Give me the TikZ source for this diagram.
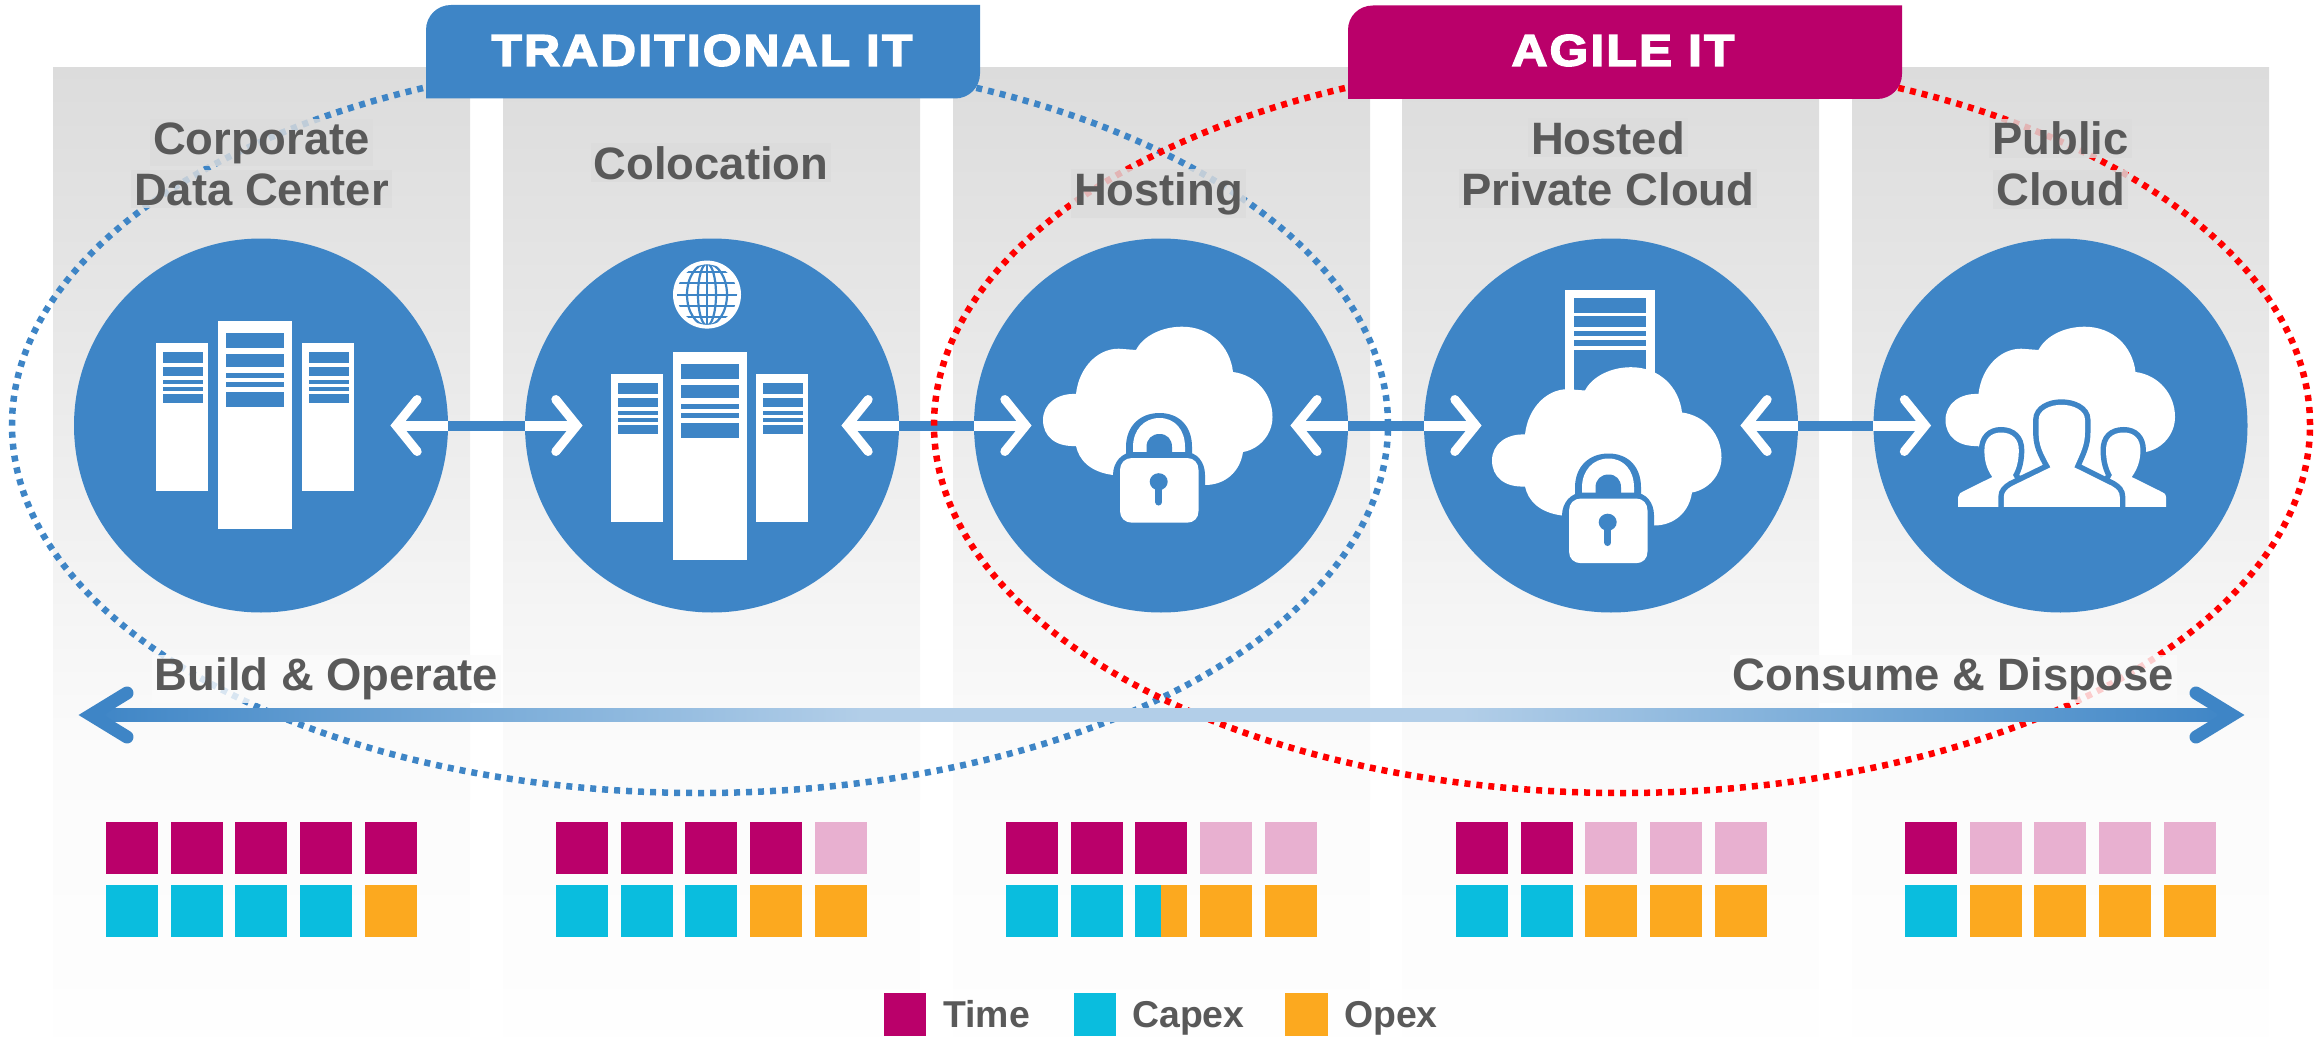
\documentclass[tikz,border=0pt]{standalone}
\usepackage{fontspec}
\setmainfont{Liberation Sans}
\newfontfamily\headfont[LetterSpace=5,FakeBold=3.5,FakeStretch=1.12]{Liberation Sans}
\usetikzlibrary{shapes.geometric}
\definecolor{itblue}{HTML}{3E85C6}
\definecolor{itpink}{HTML}{BA006A}
\definecolor{palepink}{HTML}{E8B0D0}
\definecolor{itcyan}{HTML}{0ABDDE}
\definecolor{itorange}{HTML}{FCA91F}
\definecolor{ink}{HTML}{595959}
\definecolor{fadeT}{HTML}{DCDCDC}
\definecolor{fadeA}{HTML}{E6E6E6}
\definecolor{fadeB}{HTML}{F5F5F5}
\definecolor{fadeC}{HTML}{FBFBFB}
\definecolor{fadeD}{HTML}{FEFEFE}
\definecolor{spanmid}{HTML}{B2CEE8}
\definecolor{spanlow}{HTML}{78ABD8}
\pgfdeclareverticalshading{panelfade}{100bp}{color(0bp)=(fadeD);color(25bp)=(fadeD);color(39.7bp)=(fadeC);color(46.8bp)=(fadeB);color(63bp)=(fadeA);color(75bp)=(fadeT);color(100bp)=(fadeT)}
\pgfdeclarehorizontalshading{spanfade}{100bp}{color(0bp)=(itblue);color(25bp)=(itblue);color(34bp)=(spanlow);color(43bp)=(spanmid);color(57bp)=(spanmid);color(66bp)=(spanlow);color(75bp)=(itblue);color(100bp)=(itblue)}
\tikzset{
  panel/.style={rectangle,anchor=north west,inner sep=0,minimum width=417pt,minimum height=969pt,shade,shading=panelfade},
  disc/.style={circle,fill=itblue,minimum size=374pt,inner sep=0},
  ring/.style={ellipse,minimum width=1376pt,minimum height=736pt,inner sep=0,line width=6.5pt,dash pattern=on 6pt off 6pt},
  linkshaft/.style={draw=itblue,line width=10pt},
  whiteshaft/.style={draw=white,line width=10pt},
  wing/.style={draw=white,line width=9pt,line cap=round,miter limit=10},
  bigwing/.style={draw=itblue,line width=13pt,line cap=round,miter limit=10},
  title/.style={anchor=base,text=ink,font=\fontsize{45.4}{54}\selectfont\bfseries,inner sep=3pt,fill=fadeT,fill opacity=.82,text opacity=1},
  spanlabel/.style={title,fill=fadeC},
  legendtext/.style={anchor=base west,text=ink,inner sep=0,font=\fontsize{37.4}{44}\selectfont\bfseries},
  headtext/.style={text=white,inner sep=0,font=\headfont\fontsize{44.3}{50}\selectfont\bfseries},
}
\newcommand{\smallrack}[2]{\begin{scope}[shift={(#1,#2)}]
  \fill[white] (0,0) rectangle (52,148);
  \foreach \a/\b in {9/20,24/33,37/41,44/48,51/60} \fill[itblue] (7,\a) rectangle (47,\b);
\end{scope}}
\newcommand{\bigrack}[2]{\begin{scope}[shift={(#1,#2)}]
  \fill[white] (0,0) rectangle (73.5,208);
  \foreach \a/\b in {12/27,33/45.5,51.5/56.6,61/66,71/85.5} \fill[itblue] (8,\a) rectangle (65.5,\b);
\end{scope}}
\newcommand{\cloudshape}[2]{\fill[white,shift={(#1,#2)}] (1076,446) .. controls (1055,447) and (1043,436) .. (1043,420) .. controls (1043,404) and (1057,393) .. (1076,394) .. controls (1079,366) and (1100,346) .. (1123,349) -- (1136,350) .. controls (1143,336) and (1162,326.7) .. (1182,326.7) .. controls (1210,326.7) and (1230,346) .. (1233,372) .. controls (1256,375) and (1272.5,394) .. (1272.5,417) .. controls (1272.5,434) and (1260,449) .. (1243,452) .. controls (1240,472) and (1225,485) .. (1205,485) -- (1113,475) .. controls (1090,472) and (1079,460) .. (1076,446) -- cycle;}
\newcommand{\padlock}[2]{\begin{scope}[shift={(#1,#2)}]
  \fill[itblue] (1126,460) -- (1126,447) .. controls (1126,426) and (1140,413) .. (1159.5,413) .. controls (1179,413) and (1192,426) .. (1192,447) -- (1192,460) -- cycle;
  \fill[white] (1133,456) -- (1133,447) .. controls (1133,430) and (1144,418) .. (1159.5,418) .. controls (1175,418) and (1185,430) .. (1185,447) -- (1185,456) -- cycle;
  \fill[itblue] (1146.5,456) -- (1146.5,447) .. controls (1146.5,439) and (1152,434) .. (1159.5,434) .. controls (1167,434) and (1172,439) .. (1172,447) -- (1172,456) -- cycle;
  \fill[itblue] (1113,490) -- (1113,475) .. controls (1113,462) and (1122,452) .. (1134,452) -- (1185,452) .. controls (1197,452) and (1205,462) .. (1205,475) -- (1205,530) -- (1113,530) -- cycle;
  \fill[white] (1120,470) .. controls (1120,463) and (1125,458) .. (1132,458) -- (1187,458) .. controls (1194,458) and (1198.5,463) .. (1198.5,470) -- (1198.5,511) .. controls (1198.5,518) and (1194,522.7) .. (1187,522.7) -- (1132,522.7) .. controls (1125,522.7) and (1120,518) .. (1120,511) -- cycle;
  \fill[itblue] (1158.7,481.7) ellipse [x radius=9pt,y radius=8.5pt];
  \draw[itblue,line width=7pt,line cap=round] (1158.7,485) -- (1158.7,502);
\end{scope}}
\newcommand{\linkpair}[2]{%
  \draw[linkshaft] (#1.east) -- (#2.west);
  \draw[whiteshaft] (#1.east) -- ([xshift=-53pt]#1.east);
  \draw[whiteshaft] (#2.west) -- ([xshift=53pt]#2.west);
  \draw[wing] ([xshift=-31pt,yshift=26pt]#1.east) -- ([xshift=-52pt]#1.east) -- ([xshift=-31pt,yshift=-26pt]#1.east);
  \draw[wing] ([xshift=31pt,yshift=26pt]#2.west) -- ([xshift=52pt]#2.west) -- ([xshift=31pt,yshift=-26pt]#2.west);}
\newcommand{\scoregroup}[5]{% x, dark pink count, cyan count, extra drawing
  \foreach \k in {0,...,4} {
    \pgfmathsetmacro{\xa}{#1+64.7*\k}
    \pgfmathsetmacro{\xb}{\xa+52}
    \pgfmathparse{\k<#2 ? 1 : 0}
    \ifnum\pgfmathresult=1 \fill[itpink] (\xa,821.7) rectangle (\xb,873.7); \else \fill[palepink] (\xa,821.7) rectangle (\xb,873.7); \fi
    \pgfmathparse{\k<#3 ? 1 : 0}
    \ifnum\pgfmathresult=1 \fill[itcyan] (\xa,885) rectangle (\xb,936.5); \else \fill[itorange] (\xa,885) rectangle (\xb,936.5); \fi
  }
  #4#5}
\begin{document}
\begin{tikzpicture}[x=1pt,y=-1pt]
\useasboundingbox (0,0) rectangle (2321,1038);
% panels
\node[panel] (p1) at (53,67) {};
\node[panel] (p2) at (503,67) {};
\node[panel] (p3) at (953,67) {};
\node[panel] (p4) at (1402,67) {};
\node[panel] (p5) at (1852,67) {};
% discs
\node[disc] (c1) at (261,425.5) {};
\node[disc] (c2) at (712,425.5) {};
\node[disc] (c3) at (1161,425.5) {};
\node[disc] (c4) at (1611,425.5) {};
\node[disc] (c5) at (2060.5,425.5) {};
% links
\linkpair{c1}{c2}
\linkpair{c2}{c3}
\linkpair{c3}{c4}
\linkpair{c4}{c5}
% racks
\smallrack{156}{343}\bigrack{218}{321}\smallrack{302}{343}
\smallrack{611}{374}\bigrack{673}{352}\smallrack{756}{374}
% globe
\fill[white] (707,294.6) circle [radius=34pt];
\begin{scope}
  \clip (707,294.6) circle [radius=30pt];
  \foreach \r in {9,20} \draw[itblue,line width=2.2pt] (707,294.6) ellipse [x radius=\r pt,y radius=31pt];
  \draw[itblue,line width=2.2pt] (707,262) -- (707,327);
  \foreach \yy in {272,283,294.6,306,317} \draw[itblue,line width=2.2pt] (675,\yy) -- (739,\yy);
\end{scope}
% hosting icon
\cloudshape{0}{0}
\padlock{0}{0}
% hosted private cloud icon
\fill[white] (1565,290) rectangle (1654.6,400);
\foreach \a/\b in {297.7/312.7,315.7/327,330.7/336,340/346,350/400} \fill[itblue] (1573.5,\a) rectangle (1646,\b);
\cloudshape{449}{40.5}
\padlock{449}{40.5}
% public cloud icon
\cloudshape{902.5}{0}
\begin{scope}[fill=white]
  \fill[preaction={draw=itblue,line width=11pt}] (1992.3,477) .. controls (1986,468) and (1984.4,460) .. (1984.4,450) .. controls (1984.4,439) and (1991,432.5) .. (2001,432.5) .. controls (2012,432.5) and (2018.8,439) .. (2018.8,450) .. controls (2018.8,460) and (2017,468) .. (2012.9,475) -- (2030,507) -- (1958.2,507) -- (1958.2,497) .. controls (1958.2,494) and (1961,492) .. (1964,491) -- cycle;
  \fill[preaction={draw=itblue,line width=11pt}] (2131.7,477) .. controls (2138,468) and (2140.4,460) .. (2140.4,450) .. controls (2140.4,439) and (2134,432.5) .. (2123.8,432.5) .. controls (2112,432.5) and (2106,439) .. (2106,450) .. controls (2106,460) and (2108,468) .. (2112,475) -- (2095,507) -- (2166,507) -- (2166,497) .. controls (2166,494) and (2163,492) .. (2160,491) -- cycle;
  \fill[preaction={draw=itblue,line width=11pt}] (2050.5,467.3) .. controls (2042,452) and (2038.6,445) .. (2038.6,432) -- (2038.6,420) .. controls (2038.6,410) and (2050,404.8) .. (2061.5,404.8) .. controls (2073,404.8) and (2085,410) .. (2085,420) -- (2085,432) .. controls (2085,445) and (2081,452) .. (2074.3,467.3) -- (2112,486) .. controls (2117,489) and (2119.8,492) .. (2119.8,497) -- (2119.8,507) -- (2003.8,507) -- (2003.8,497) .. controls (2003.8,492) and (2007,489) .. (2012,486) -- cycle;
\end{scope}
\fill[itblue] (1950,507) rectangle (2175,513);
% rings
\node[ring,draw=itblue] (tradring) at (700,425) {};
\node[ring,draw=red] (agilering) at (1622,425) {};
% span arrow
\coordinate (spanL) at (91,715);
\coordinate (spanR) at (2232,715);
\shade[shading=spanfade] (91,708.5) rectangle (2232,721.5);
\draw[bigwing] (127,693) -- (spanL) -- (127,737);
\draw[bigwing] (2196,693) -- (spanR) -- (2196,737);
% headers
\fill[itblue] (426,98.5) -- (426,30) .. controls (426,16) and (437,5) .. (451,5) -- (980,5) -- (980,73.5) .. controls (980,87.5) and (969,98.5) .. (955,98.5) -- cycle;
\node[headtext] (trad) at (702,50.5) {TRADITIONAL IT};
\fill[itpink] (1348,99) -- (1348,30) .. controls (1348,16) and (1359,5.5) .. (1373,5.5) -- (1902,5.5) -- (1902,74) .. controls (1902,88) and (1891,99) .. (1877,99) -- cycle;
\node[headtext] (agile) at (1623,50.5) {AGILE IT};
% titles
\node[title] (t1a) at (261.5,154) {Corporate};
\node[title] (t1b) at (261.5,205) {Data Center};
\node[title] (t2) at (711,179) {Colocation};
\node[title] (t3) at (1158.5,205) {Hosting};
\node[title] (t4a) at (1608,154) {Hosted};
\node[title] (t4b) at (1608,205) {Private Cloud};
\node[title] (t5a) at (2060.5,154.5) {Public};
\node[title] (t5b) at (2060.5,205.5) {Cloud};
\node[spanlabel] (build) at (326.5,690.5) {Build \& Operate};
\node[spanlabel] (consume) at (1953.5,690.5) {Consume \& Dispose};
% scores
\scoregroup{106}{5}{4}{}{}
\scoregroup{556}{4}{3}{}{}
\scoregroup{1006}{3}{3}{\fill[itorange] (1160.7,885) rectangle (1187.4,936.5);}{}
\scoregroup{1456}{2}{2}{}{}
\scoregroup{1905}{1}{1}{}{}
% legend
\fill[itpink] (884,993) rectangle (926,1036);
\node[legendtext] (l1) at (943,1027) {Time};
\fill[itcyan] (1074,993) rectangle (1116,1036);
\node[legendtext] (l2) at (1132,1027) {Capex};
\fill[itorange] (1285,993) rectangle (1328,1036);
\node[legendtext] (l3) at (1344,1027) {Opex};
\end{tikzpicture}
\end{document}
